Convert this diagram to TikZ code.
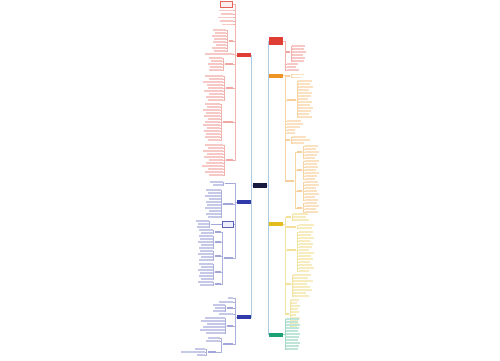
\documentclass[tikz,border=0pt]{standalone}
\definecolor{mmNavy}{RGB}{22,26,64}
\definecolor{mmRed}{RGB}{222,62,52}
\definecolor{mmOrange}{RGB}{238,148,36}
\definecolor{mmYellow}{RGB}{226,188,28}
\definecolor{mmGreen}{RGB}{28,160,116}
\definecolor{mmBlue}{RGB}{48,58,168}
\definecolor{mmSky}{RGB}{172,202,226}
\usepackage{tikz}
\usetikzlibrary{positioning}

\begin{document}
\begin{tikzpicture}[
    x=0.02cm, y=-0.02cm,
    root/.style={rectangle, fill=mmNavy, minimum width=0.28cm, minimum height=0.1cm, inner sep=0pt},
    topic/.style={rectangle, fill=#1, minimum width=0.28cm, minimum height=0.08cm, inner sep=0pt},
    leafR/.style={rectangle, fill=#1!28, minimum height=0.032cm, inner sep=0pt, anchor=west},
    leafL/.style={rectangle, fill=#1!28, minimum height=0.032cm, inner sep=0pt, anchor=east},
    tagR/.style={rectangle, fill=#1!45, minimum height=0.032cm, inner sep=0pt, anchor=west},
    tagL/.style={rectangle, fill=#1!45, minimum height=0.032cm, inner sep=0pt, anchor=east},
    boxL/.style={rectangle, draw=#1!80, fill=#1!8, line width=0.3pt, minimum height=0.11cm, inner sep=0pt, anchor=east},
    wd/.style={minimum width=#1*0.02cm},
    link/.style={draw=#1!40, line width=0.25pt},
    trunk/.style={draw=mmSky, line width=0.35pt},
  ]
    \fill[white] (0,0) rectangle (500,360);
    \useasboundingbox (0,0) rectangle (500,360);

    % root
    \node[root] (root) at (260,185.5) {};

    % main topics
    \node[topic=mmRed, minimum height=0.16cm] (redR) at (276,41) {};
    \node[topic=mmOrange] (orangeR) at (276,75.5) {};
    \node[topic=mmYellow] (yellowR) at (276,224) {};
    \node[topic=mmGreen] (greenR) at (276,334.5) {};
    \node[topic=mmRed] (redL) at (244,55) {};
    \node[topic=mmBlue] (blueL) at (244,202) {};
    \node[topic=mmBlue] (blue2L) at (244,317) {};

    % trunk
    \foreach \t in {redR, orangeR, yellowR, greenR}
      \draw[trunk] (root.east) -- ++(1,0) |- (\t.west);
    \foreach \t in {redL, blueL, blue2L}
      \draw[trunk] (root.west) -- ++(-1,0) |- (\t.east);

    % red, right
    \node[tagR=mmRed, wd=4] (rr-t) at (286,52) {};
    \draw[link=mmRed] (redR.east) -- ++(1.5,0) |- (rr-t.west);
    \foreach \y/\w [count=\i] in {46/13, 49/12, 52/14, 55/11, 58/13, 61/12} {
      \node[leafR=mmRed, wd=\w] (rr-a\i) at (292,\y) {};
      \draw[link=mmRed] (rr-t.east) -- ++(1,0) |- (rr-a\i.west);
    }
    \foreach \y/\w [count=\i] in {64/11, 67/9, 70/12} {
      \node[leafR=mmRed, wd=\w] (rr-b\i) at (287,\y) {};
      \draw[link=mmRed] (redR.east) -- ++(1.5,0) |- (rr-b\i.west);
    }

    % orange
    \node[tagR=mmOrange, wd=4] (or-t1) at (286,76) {};
    \draw[link=mmOrange] (orangeR.east) -- ++(1.5,0) |- (or-t1.west);
    \foreach \y/\w [count=\i] in {74.5/12, 77.5/9} {
      \node[leafR=mmOrange, wd=\w] (or-a\i) at (292,\y) {};
      \draw[link=mmOrange] (or-t1.east) -- ++(1,0) |- (or-a\i.west);
    }
    \node[tagR=mmOrange, wd=9] (or-t2) at (287,100) {};
    \draw[link=mmOrange] (orangeR.east) -- ++(1.5,0) |- (or-t2.west);
    \foreach \y/\w [count=\i] in {81/14, 84/12, 87/15, 90/11, 93/14, 96/13, 99/10,
                                  102/14, 105/12, 108/15, 111/13, 114/11, 117/14} {
      \node[leafR=mmOrange, wd=\w] (or-b\i) at (298,\y) {};
      \draw[link=mmOrange] (or-t2.east) -- ++(1,0) |- (or-b\i.west);
    }
    \foreach \y/\w [count=\i] in {121/14, 124/16, 127/13, 130/8, 133/8} {
      \node[leafR=mmOrange, wd=\w] (or-c\i) at (287,\y) {};
      \draw[link=mmOrange] (orangeR.east) -- ++(1.5,0) |- (or-c\i.west);
    }
    \node[tagR=mmOrange, wd=4] (or-t3) at (286,140) {};
    \draw[link=mmOrange] (orangeR.east) -- ++(1.5,0) |- (or-t3.west);
    \foreach \y/\w [count=\i] in {137/14, 140/18, 143/12} {
      \node[leafR=mmOrange, wd=\w] (or-d\i) at (292,\y) {};
      \draw[link=mmOrange] (or-t3.east) -- ++(1,0) |- (or-d\i.west);
    }
    \node[tagR=mmOrange, wd=8] (or-t4) at (286,181) {};
    \draw[link=mmOrange] (orangeR.east) -- ++(1.5,0) |- (or-t4.west);
    \foreach \s/\ys/\lst in {1/152/{146/13,149/11,152/14,155/12,158/10},
                             2/170/{161/14,164/12,167/13,170/11,173/14,176/12,179/10},
                             3/191/{182/13,185/14,188/11,191/12,194/14,197/10,200/13},
                             4/208/{203/12,206/14,209/11,212/13}} {
      \node[tagR=mmOrange, wd=5] (or-s\s) at (297,\ys) {};
      \draw[link=mmOrange] (or-t4.east) -- ++(1,0) |- (or-s\s.west);
      \foreach \y/\w [count=\i] in \lst {
        \node[leafR=mmOrange, wd=\w] (or-s\s-\i) at (305,\y) {};
        \draw[link=mmOrange] (or-s\s.east) -- ++(1,0) |- (or-s\s-\i.west);
      }
    }

    % yellow
    \foreach \t/\x/\ty/\tw/\lx/\lst in {
        1/286/217/5/293/{214/15,217/13,220/16},
        2/286/227/10/299/{225/15,228/13},
        3/287/250/9/299/{232/14,235/12,238/15,241/11,244/14,247/13,250/10,253/15,256/12,259/14,262/11,265/13,268/15,271/10},
        4/286/284/5/293/{275/18,278/15,281/20,284/14,287/17,290/19,293/13,296/16},
        5/286/314/3/291/{300/8,303/6,306/9,309/7,312/8,315/5,318/9,321/7,324/8,327/6}} {
      \node[tagR=mmYellow, wd=\tw] (ye-t\t) at (\x,\ty) {};
      \draw[link=mmYellow] (yellowR.east) -- ++(1.5,0) |- (ye-t\t.west);
      \foreach \y/\w [count=\i] in \lst {
        \node[leafR=mmYellow, wd=\w] (ye-\t-\i) at (\lx,\y) {};
        \draw[link=mmYellow] (ye-t\t.east) -- ++(1,0) |- (ye-\t-\i.west);
      }
    }

    % green
    \foreach \y/\w [count=\i] in {319/13, 322/12, 325/14, 328/13, 331/12, 334/14,
                                  337/13, 340/12, 343/14, 346/13, 349/12} {
      \node[leafR=mmGreen, wd=\w] (gr-\i) at (286,\y) {};
      \draw[link=mmGreen] (greenR.east) -- ++(1.5,0) |- (gr-\i.west);
    }

    % red, left
    \node[boxL=mmRed, wd=12] (rl-box) at (233,4.5) {};
    \draw[link=mmRed] (redL.west) -- ++(-1.5,0) |- (rl-box.east);
    \foreach \y/\w [count=\i] in {10.5/14, 14/12, 17.5/15, 21/13, 24.5/11, 54/28} {
      \node[leafL=mmRed, wd=\w] (rl-a\i) at (233,\y) {};
      \draw[link=mmRed] (redL.west) -- ++(-1.5,0) |- (rl-a\i.east);
    }
    \foreach \t/\ty/\tw/\lx/\lst in {
        1/41/4/226/{30/13,33/11,36/14,39/12,42/13,45/10,48/14,51/12},
        2/64/8/222/{58/13,61/11,64/14,67/12,70/13},
        3/88/7/223/{76/18,79/14,82/20,85/16,88/15,91/19,94/14,97/17,100/15},
        4/122/10/220/{104/15,107/13,110/17,113/14,116/16,119/12,122/15,125/17,128/13,131/16,134/14,137/15,140/12},
        5/160/7/223/{145/18,148/15,151/20,154/16,157/19,160/14,163/17,166/21,169/15,172/18,175/14}} {
      \node[tagL=mmRed, wd=\tw] (rl-t\t) at (233,\ty) {};
      \draw[link=mmRed] (redL.west) -- ++(-1.5,0) |- (rl-t\t.east);
      \foreach \y/\w [count=\i] in \lst {
        \node[leafL=mmRed, wd=\w] (rl-\t-\i) at (\lx,\y) {};
        \draw[link=mmRed] (rl-t\t.west) -- ++(-1,0) |- (rl-\t-\i.east);
      }
    }

    % blue, left
    \foreach \t/\ty/\tw/\lx/\lst in {
        1/183.5/8/223/{182/13,185/10},
        2/204/10/221/{190/15,193/13,196/16,199/12,202/15,205/14,208/16,211/12,214/15,217/13}} {
      \node[tagL=mmBlue, wd=\tw] (bl-t\t) at (233,\ty) {};
      \draw[link=mmBlue] (blueL.west) -- ++(-1.5,0) |- (bl-t\t.east);
      \foreach \y/\w [count=\i] in \lst {
        \node[leafL=mmBlue, wd=\w] (bl-\t-\i) at (\lx,\y) {};
        \draw[link=mmBlue] (bl-t\t.west) -- ++(-1,0) |- (bl-\t-\i.east);
      }
    }
    \node[boxL=mmBlue, wd=11] (bl-box) at (234,224.5) {};
    \draw[link=mmBlue] (blueL.west) -- ++(-1.5,0) |- (bl-box.east);
    \node[tagL=mmBlue, wd=10] (bl-t3) at (221,224.5) {};
    \draw[link=mmBlue] (bl-box.west) -- (bl-t3.east);
    \foreach \y/\w [count=\i] in {221/13, 224/11, 227/12} {
      \node[leafL=mmBlue, wd=\w] (bl-3-\i) at (209,\y) {};
      \draw[link=mmBlue] (bl-t3.west) -- ++(-1,0) |- (bl-3-\i.east);
    }
    \node[tagL=mmBlue, wd=9] (bl-t4) at (233,258) {};
    \draw[link=mmBlue] (blueL.west) -- ++(-1.5,0) |- (bl-t4.east);
    \foreach \s/\ys/\lst in {1/232/{230/14,233/12},
                             2/242/{236/14,239/13,242/15,245/12,248/14},
                             3/256/{251/13,254/15,257/12,260/14},
                             4/272/{264/14,267/12,270/15,273/13,276/14,279/12},
                             5/284/{282/15,285/13}} {
      \node[tagL=mmBlue, wd=6] (bl-s\s) at (221,\ys) {};
      \draw[link=mmBlue] (bl-t4.west) -- ++(-1,0) |- (bl-s\s.east);
      \foreach \y/\w [count=\i] in \lst {
        \node[leafL=mmBlue, wd=\w] (bl-s\s-\i) at (213,\y) {};
        \draw[link=mmBlue] (bl-s\s.west) -- ++(-1,0) |- (bl-s\s-\i.east);
      }
    }

    % blue, bottom
    \foreach \y/\w [count=\i] in {298/5, 302/14, 314/14} {
      \node[leafL=mmBlue, wd=\w] (bb-a\i) at (233,\y) {};
      \draw[link=mmBlue] (blue2L.west) -- ++(-1.5,0) |- (bb-a\i.east);
    }
    \foreach \t/\ty/\tw/\lx/\lst in {
        1/308/6/225/{305/12,308/10,311/12},
        2/326/6/225/{318/20,321/24,324/18,327/22,330/25,333/19},
        3/344/10/220/{338/12,341/14}} {
      \node[tagL=mmBlue, wd=\tw] (bb-t\t) at (233,\ty) {};
      \draw[link=mmBlue] (blue2L.west) -- ++(-1.5,0) |- (bb-t\t.east);
      \foreach \y/\w [count=\i] in \lst {
        \node[leafL=mmBlue, wd=\w] (bb-\t-\i) at (\lx,\y) {};
        \draw[link=mmBlue] (bb-t\t.west) -- ++(-1,0) |- (bb-\t-\i.east);
      }
    }
    \node[tagL=mmBlue, wd=8] (bb-t4) at (216,352) {};
    \draw[link=mmBlue] (bb-t3.west) -- ++(-1,0) |- (bb-t4.east);
    \foreach \y/\w [count=\i] in {349/10, 352/24, 355/8} {
      \node[leafL=mmBlue, wd=\w] (bb-4-\i) at (205,\y) {};
      \draw[link=mmBlue] (bb-t4.west) -- ++(-1,0) |- (bb-4-\i.east);
    }
  \end{tikzpicture}
\end{document}
